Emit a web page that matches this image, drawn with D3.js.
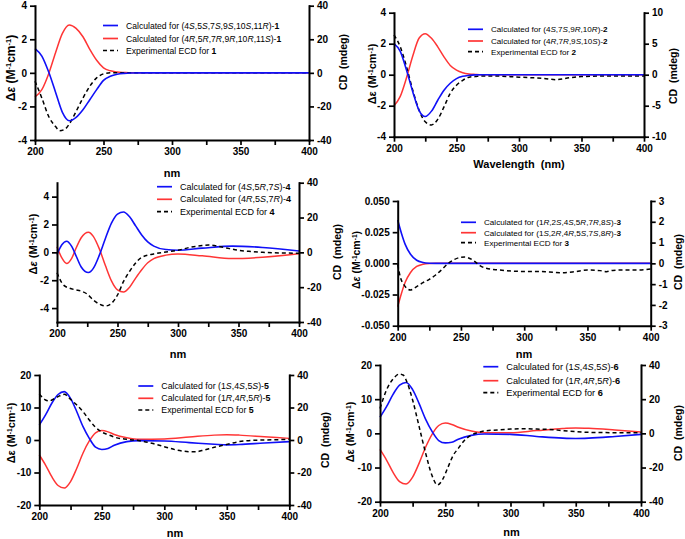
<!DOCTYPE html>
<html><head><meta charset="utf-8">
<script src="https://cdn.jsdelivr.net/npm/d3@7"></script>
<style>
body{margin:0;background:#fff;}
svg{display:block;font-family:Arial,"Liberation Sans",Helvetica,sans-serif;}
svg text{white-space:pre;}
</style></head><body>
<svg id="fig" width="685" height="539"></svg>
<script>
// ---------- DATA ----------
const xMajorTicks = [200, 250, 300, 350, 400];
const xMinorTicks = [225, 275, 325, 375];

// Panel 1 (compound 1)
const wl1   = [200,205,210,215,220,225,230,235,240,245,250,255,260,265,270,280,300,350,400];
const blue1 = [1.45,1.0,0.05,-1.15,-2.35,-2.85,-2.65,-2.2,-1.6,-1.0,-0.45,-0.2,-0.08,-0.03,-0.01,0,0,0,0];
const red1  = [-1.43,-1.0,-0.05,1.2,2.35,2.85,2.65,2.15,1.4,0.75,0.3,0.12,0.05,0.02,0,0,0,0,0];
const expWl1 = [200,205,210,215,218,222,225,230,235,240,245,250,255,260,270,300,350,400];
const exp1   = [-5,-15,-26,-32,-34.5,-33.5,-30.5,-23,-15,-8,-3,-0.6,0,0,0,0,0,0];
const legend1 = ["Calculated for (4S,5S,7S,9S,10S,11R)-1","Calculated for (4R,5R,7R,9R,10R,11S)-1","Experimental ECD for 1"];
const leftTicks1 = [-4,-2,0,2,4];
const rightTicks1 = [-40,-20,0,20,40];

// Panel 2 (compound 2)
const wl2   = [200,205,210,215,220,225,230,235,240,245,250,255,260,265,270,280,300,350,400];
const blue2 = [2.0,1.5,0.3,-1.1,-2.3,-2.7,-2.35,-1.65,-1.0,-0.55,-0.25,-0.1,-0.04,-0.01,0,0,0,0,0];
const red2  = [-2.0,-1.4,-0.2,1.2,2.35,2.65,2.35,1.8,1.15,0.6,0.3,0.13,0.05,0.02,0,0,0,0,0];
const expWl2 = [200,205,210,215,220,225,230,235,240,245,250,255,260,265,270,280,300,320,330,340,350,375,400];
const exp2   = [6.4,4.5,1.3,-2.5,-5.7,-7.6,-8.1,-7.2,-5.2,-3.0,-1.7,-0.9,-0.4,-0.3,-0.2,-0.2,-0.4,-0.6,-0.8,-0.5,-0.3,-0.2,-0.2];
const legend2 = ["Calculated for (4S,7S,9R,10R)-2","Calculated for (4R,7R,9S,10S)-2","Experimental ECD for 2"];
const leftTicks2 = [-4,-2,0,2,4];
const rightTicks2 = [-10,-5,0,5,10];

// Panel 3 (compound 4)
const wl4   = [200,204,208,212,216,220,226,230,235,240,245,250,255,260,265,270,275,280,290,300,320,345,370,400];
const blue4 = [-0.15,0.55,0.8,0.45,-0.3,-1.05,-1.45,-1.15,-0.2,1.0,2.1,2.75,2.9,2.55,1.9,1.25,0.75,0.45,0.2,0.15,0.3,0.45,0.35,0.1];
const red4  = [0.4,-0.4,-0.8,-0.45,0.35,1.05,1.45,1.15,0.25,-0.95,-2.05,-2.7,-2.85,-2.5,-1.85,-1.25,-0.75,-0.45,-0.2,-0.12,-0.25,-0.45,-0.35,-0.1];
const expWl4 = [200,205,210,215,220,225,230,235,240,245,250,255,260,265,270,280,290,300,310,320,325,330,340,350,360,370,380,390,400];
const exp4   = [-11.7,-18.5,-20.5,-21.5,-22.3,-24,-27.4,-29.7,-30.8,-29.3,-24.5,-16.7,-10.9,-6.1,-2.9,-0.9,0.2,1.2,2.9,3.9,4.2,3.9,2.5,1.2,0.5,0,-0.3,-0.4,-0.5];
const legend4 = ["Calculated for (4S,5R,7S)-4","Calculated for (4R,5S,7R)-4","Experimental ECD for 4"];
const leftTicks4 = [-4,-2,0,2,4];
const rightTicks4 = [-40,-20,0,20,40];

// Panel 4 (compound 3)
const wl3   = [200,203,206,210,215,220,225,230,300,400];
const blue3 = [0.0348,0.024,0.015,0.0075,0.0025,0.0007,0.0001,0,0,0];
const red3  = [-0.0348,-0.024,-0.015,-0.0075,-0.0025,-0.0007,-0.0001,0,0,0];
const expWl3 = [200,202,205,210,215,220,225,230,235,240,245,250,253,260,265,270,280,290,300,310,320,330,340,350,360,365,370,380,390,400];
const exp3   = [-0.05,-0.64,-1.04,-1.28,-1.12,-0.93,-0.77,-0.56,-0.29,0,0.19,0.29,0.3,0.13,-0.11,-0.24,-0.32,-0.37,-0.39,-0.39,-0.42,-0.45,-0.4,-0.32,-0.35,-0.4,-0.34,-0.32,-0.32,-0.27];
const legend3 = ["Calculated for (1R,2S,4S,5R,7R,8S)-3","Calculated for (1S,2R,4R,5S,7S,8R)-3","Experimental ECD for 3"];
const leftTicks3 = [-0.05,-0.025,0,0.025,0.05];
const rightTicks3 = [-3,-2,-1,0,1,2,3];

// Panel 5 (compound 5)
const wl5   = [200,205,210,215,220,225,230,235,240,245,250,255,260,270,280,300,320,340,350,360,380,400];
const blue5 = [4.6,7.7,11.3,14,14.9,12.8,8.7,4.1,0.5,-2.2,-2.9,-2.6,-1.6,-0.5,-0.2,-0.3,-0.8,-1.3,-1.5,-1.4,-0.9,-0.5];
const red5  = [-4.6,-7.7,-11.3,-14,-14.8,-12.8,-8.7,-4.0,-0.3,2.2,2.9,2.5,1.7,0.7,0.2,0.3,0.9,1.5,1.6,1.5,1.0,0.5];
const expWl5 = [200,205,208,210,215,220,225,230,235,240,245,250,255,260,270,280,290,300,310,320,325,330,340,350,360,370,380,400];
const exp5   = [28.3,24.6,24,24.6,26.7,28.1,25,21.5,17.4,12.3,7.8,4.9,3.3,1.8,0.4,-0.4,-2,-4.1,-6.2,-7.2,-7.3,-6.5,-4.5,-2.7,-1,-0.2,0,0.4];
const legend5 = ["Calculated for (1S,4S,5S)-5","Calculated for (1R,4R,5R)-5","Experimental ECD for 5"];
const leftTicks5 = [-20,-10,0,10,20];
const rightTicks5 = [-40,-20,0,20,40];

// Panel 6 (compound 6)
const wl6   = [200,205,210,215,220,225,230,235,240,245,250,255,260,270,280,300,320,340,350,360,380,400];
const blue6 = [4.7,7.8,11.4,14.1,14.9,12.8,8.7,4.1,0.5,-2.1,-2.8,-2.6,-1.7,-0.6,-0.2,-0.3,-0.9,-1.4,-1.5,-1.4,-0.9,-0.3];
const red6  = [-4.7,-7.8,-11.4,-14.1,-14.8,-12.8,-8.7,-4.0,-0.2,2.3,3.0,2.6,1.8,0.7,0.2,0.2,0.8,1.4,1.6,1.5,1.0,0.4];
const expWl6 = [200,205,210,215,218,220,225,230,235,240,244,248,252,256,260,265,270,275,280,290,300,310,320,330,340,350,360,380,400];
const exp6   = [14.6,25.4,31.8,34.7,34,31.2,19.5,3.9,-11.7,-25,-30.2,-27,-20,-13,-8.8,-3.9,-1,0.4,1.4,2,2.5,2.7,2.5,2.3,1.6,1,0.6,0.4,0.4];
const legend6 = ["Calculated for (1S,4S,5S)-6","Calculated for (1R,4R,5R)-6","Experimental ECD for 6"];
const leftTicks6 = [-20,-10,0,10,20];
const rightTicks6 = [-40,-20,0,20,40];

// ---------- LAYOUT ----------
const BLUE = "#1010f8", RED = "#ff3535";
const panels = [
 {x0:35, x1:309, y0:5.7, y1:140, L:[-4,4], Lt:leftTicks1, Ld:0, R:[-40,40], Rt:rightTicks1, Rd:0,
  wl:wl1, blue:blue1, red:red1, ewl:expWl1, exp:exp1, leg:legend1, legX:103, legRows:[25.5,38.5,50.5], legFont:8.6,
  xt:{text:"nm", x:172, y:177}, yl:{x:11, y:68, size:12, it:true}, yr:{x:343, y:62, size:10.5}, expUnder:true},
 {x0:394, x1:644, y0:12.7, y1:136.7, L:[-4,4], Lt:leftTicks2, Ld:0, R:[-10,10], Rt:rightTicks2, Rd:0,
  wl:wl2, blue:blue2, red:red2, ewl:expWl2, exp:exp2, leg:legend2, legX:468, legRows:[29.3,41,51.7], legFont:8.1,
  xt:{text:"Wavelength  (nm)", x:519, y:168}, yl:{x:372, y:74, size:11, it:false}, yr:{x:673, y:76, size:10.5}, expUnder:true},
 {x0:57, x1:299, y0:182.7, y1:322, L:[-5,5], Lt:leftTicks4, Ld:0, R:[-40,40], Rt:rightTicks4, Rd:0,
  wl:wl4, blue:blue4, red:red4, ewl:expWl4, exp:exp4, leg:legend4, legX:157, legRows:[186.7,199.3,211.7], legFont:9,
  xt:{text:"nm", x:178, y:358}, yl:{x:33, y:244, size:11, it:true}, yr:{x:337, y:252, size:10.5}},
 {x0:397.7, x1:650.7, y0:201, y1:325.7, L:[-0.05,0.05], Lt:leftTicks3, Ld:3, R:[-3,3], Rt:rightTicks3, Rd:0,
  wl:wl3, blue:blue3, red:red3, ewl:expWl3, exp:exp3, leg:legend3, legX:461, legRows:[222.3,232.7,242.7], legFont:8.1,
  xt:{text:"nm", x:524, y:358}, yl:{x:356.7, y:260, size:10.5, it:true}, yr:{x:678, y:262, size:10.5}},
 {x0:39.3, x1:289.3, y0:375, y1:505, L:[-20,20], Lt:leftTicks5, Ld:0, R:[-40,40], Rt:rightTicks5, Rd:0,
  wl:wl5, blue:blue5, red:red5, ewl:expWl5, exp:exp5, leg:legend5, legX:138.3, legRows:[386,398.3,410], legFont:8.8,
  xt:{text:"nm", x:175, y:537}, yl:{x:11, y:433, size:11, it:false}, yr:{x:325, y:440, size:10.5}},
 {x0:380, x1:641, y0:365, y1:501.7, L:[-20,20], Lt:leftTicks6, Ld:0, R:[-40,40], Rt:rightTicks6, Rd:0,
  wl:wl6, blue:blue6, red:red6, ewl:expWl6, exp:exp6, leg:legend6, legX:483.3, legRows:[366.7,380.7,392.7], legFont:9.2,
  xt:{text:"nm", x:511.5, y:536}, yl:{x:350, y:432, size:11, it:false}, yr:{x:678, y:433, size:10.5}}
];

const svg = d3.select("#fig");
const fmt = dec => d => (d < 0 ? "-" : "") + Math.abs(d).toFixed(dec);
const styleAxis = sel => {
  sel.select(".domain").attr("stroke-width", 2).attr("stroke-linecap", "square");
  sel.selectAll(".tick line").attr("stroke-width", 1.7);
  sel.selectAll("text").attr("font-size", 10).attr("font-weight", "bold").attr("fill", "#000")
     .attr("font-family", "Arial, 'Liberation Sans', sans-serif");
};

function richLabel(t, label) {
  const m = label.match(/^(.*?)(\d+)$/);
  const main = m[1], num = m[2];
  let inParen = false, buf = "";
  const flush = () => { if (buf) { t.append("tspan").text(buf); buf = ""; } };
  for (const c of main) {
    if (c === "(") inParen = true;
    if (c === ")") inParen = false;
    if (inParen && (c === "S" || c === "R")) { flush(); t.append("tspan").attr("font-style", "italic").text(c); }
    else buf += c;
  }
  flush();
  t.append("tspan").attr("font-weight", "bold").text(num);
}

function deltaTitle(x, y, size, italic) {
  const t = svg.append("text").attr("transform", `translate(${x},${y}) rotate(-90)`)
    .attr("text-anchor", "middle").attr("dy", "0.35em")
    .attr("font-weight", "bold").attr("font-size", size);
  t.append("tspan").text("Δ");
  t.append("tspan").attr("font-style", italic ? "italic" : "normal").text("ε");
  t.append("tspan").text(" (M");
  t.append("tspan").attr("baseline-shift", "super").attr("font-size", size * 0.62).text("-1");
  t.append("tspan").text("cm");
  t.append("tspan").attr("baseline-shift", "super").attr("font-size", size * 0.62).text("-1");
  t.append("tspan").text(")");
}

panels.forEach(p => {
  const g = svg.append("g");
  const x = d3.scaleLinear().domain([200, 400]).range([p.x0, p.x1]);
  const yL = d3.scaleLinear().domain(p.L).range([p.y1, p.y0]);
  const yR = d3.scaleLinear().domain(p.R).range([p.y1, p.y0]);

  const lineL = d3.line().x(d => x(d[0])).y(d => yL(d[1])).curve(d3.curveMonotoneX);
  const lineR = d3.line().x(d => x(d[0])).y(d => yR(d[1])).curve(d3.curveMonotoneX);
  const blueD = p.wl.map((w, i) => [w, p.blue[i]]);
  const redD = p.wl.map((w, i) => [w, p.red[i]]);
  const expD = p.ewl.map((w, i) => [w, p.exp[i]]);
  const drawRed = () => g.append("path").attr("d", lineL(redD)).attr("fill", "none").attr("stroke", RED).attr("stroke-width", 1.5);
  const drawBlue = () => g.append("path").attr("d", lineL(blueD)).attr("fill", "none").attr("stroke", BLUE).attr("stroke-width", 1.6);
  const drawExp = () => g.append("path").attr("d", lineR(expD)).attr("fill", "none").attr("stroke", "#000").attr("stroke-width", 1.5).attr("stroke-dasharray", "4,3");
  drawRed();
  if (p.expUnder) { drawExp(); drawBlue(); } else { drawBlue(); drawExp(); }

  g.append("g").attr("transform", `translate(${p.x0},0)`)
    .call(d3.axisLeft(yL).tickValues(p.Lt).tickFormat(fmt(p.Ld)).tickSize(5).tickSizeOuter(0).tickPadding(3)).call(styleAxis);
  g.append("g").attr("transform", `translate(${p.x1},0)`)
    .call(d3.axisRight(yR).tickValues(p.Rt).tickFormat(fmt(p.Rd)).tickSize(5).tickSizeOuter(0).tickPadding(3)).call(styleAxis);
  g.append("g").attr("transform", `translate(0,${p.y1})`)
    .call(d3.axisBottom(x).tickValues(xMajorTicks).tickFormat(fmt(0)).tickSize(5).tickSizeOuter(0).tickPadding(3)).call(styleAxis);
  const minor = g.append("g").attr("transform", `translate(0,${p.y1})`)
    .call(d3.axisBottom(x).tickValues(xMinorTicks).tickFormat("").tickSize(5).tickSizeOuter(0)).call(styleAxis);
  minor.select(".domain").remove();

  const styles = [{c: BLUE, dash: null}, {c: RED, dash: null}, {c: "#000", dash: "4,3"}];
  p.leg.forEach((lab, i) => {
    const yy = p.legRows[i];
    g.append("line").attr("x1", p.legX).attr("x2", p.legX + 15).attr("y1", yy).attr("y2", yy)
      .attr("stroke", styles[i].c).attr("stroke-width", 1.7).attr("stroke-dasharray", styles[i].dash);
    const t = g.append("text").attr("x", p.legX + 23).attr("y", yy).attr("dy", "0.35em")
      .attr("font-size", p.legFont).attr("fill", "#000");
    richLabel(t, lab);
  });

  svg.append("text").attr("x", p.xt.x).attr("y", p.xt.y).attr("text-anchor", "middle")
    .attr("font-weight", "bold").attr("font-size", 11).text(p.xt.text);
  deltaTitle(p.yl.x, p.yl.y, p.yl.size, p.yl.it);
  svg.append("text").attr("transform", `translate(${p.yr.x},${p.yr.y}) rotate(-90)`)
    .attr("text-anchor", "middle").attr("dy", "0.35em").attr("font-weight", "bold")
    .attr("font-size", p.yr.size).text("CD  (mdeg)");
});
</script>
</body></html>
